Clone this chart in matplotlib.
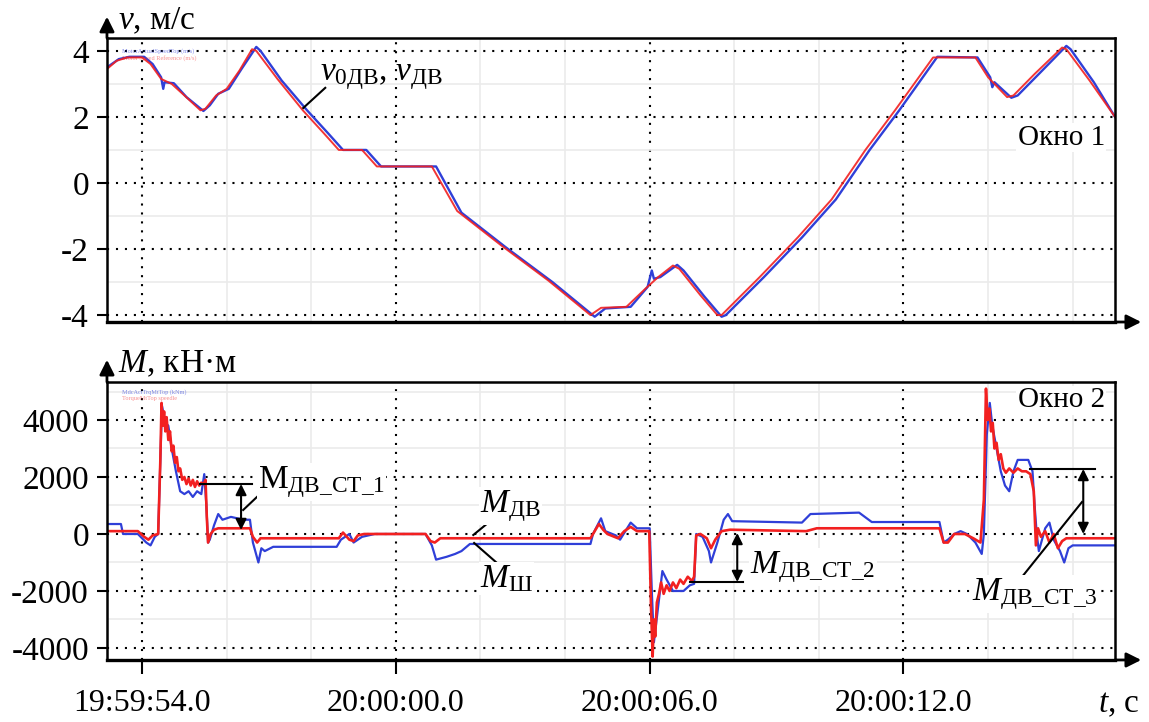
import matplotlib.pyplot as plt
from matplotlib.ticker import FixedLocator, MultipleLocator

# time axis: seconds after 19:59:54.0
time_ticks = [0, 6, 12, 18]
time_labels = ["19:59:54.0", "20:00:00.0", "20:00:06.0", "20:00:12.0"]

# Window 1: speed, m/s  (t, v)
v_ref_pts = [(-0.83, 3.45), (-0.6, 3.7), (-0.35, 3.8), (0.0, 3.8), (0.2, 3.6), (0.45, 3.15),
             (0.7, 3.0), (1.0, 2.65), (1.38, 2.2), (1.5, 2.25), (1.75, 2.65), (2.0, 2.85),
             (2.3, 3.4), (2.6, 4.05), (2.7, 4.0), (3.2, 3.15), (3.8, 2.2), (4.3, 1.5),
             (4.65, 1.0), (5.2, 1.0), (5.55, 0.5), (6.85, 0.5), (7.45, -0.85), (8.5, -1.9),
             (9.6, -2.95), (10.6, -4.0), (10.85, -3.78), (11.45, -3.75), (11.9, -3.2),
             (12.2, -2.85), (12.55, -2.5), (12.7, -2.6), (13.2, -3.4), (13.6, -4.0),
             (13.7, -4.0), (14.6, -2.85), (15.5, -1.65), (16.3, -0.5), (17.1, 1.0),
             (17.8, 2.2), (18.7, 3.8), (19.7, 3.8), (20.0, 3.2), (20.45, 2.6), (20.6, 2.65),
             (21.1, 3.3), (21.75, 4.1), (21.85, 4.05), (22.4, 3.1), (23.0, 2.0)]
v_act_pts = [(-0.83, 3.5), (-0.55, 3.75), (-0.3, 3.82), (0.05, 3.82), (0.25, 3.6), (0.45, 3.2),
             (0.5, 2.85), (0.53, 3.05), (0.75, 3.02), (1.05, 2.6), (1.45, 2.18), (1.6, 2.35),
             (1.8, 2.7), (2.05, 2.85), (2.35, 3.45), (2.7, 4.12), (2.8, 4.0), (3.3, 3.1),
             (3.9, 2.2), (4.4, 1.5), (4.75, 1.0), (5.3, 1.0), (5.65, 0.5), (6.95, 0.5),
             (7.55, -0.9), (8.6, -1.95), (9.7, -3.0), (10.7, -4.05), (10.95, -3.8),
             (11.55, -3.75), (11.95, -3.15), (12.05, -2.65), (12.1, -2.9), (12.25, -2.85),
             (12.65, -2.48), (12.8, -2.65), (13.3, -3.45), (13.7, -4.05), (13.8, -4.0),
             (14.7, -2.85), (15.6, -1.65), (16.4, -0.5), (17.2, 1.0), (17.9, 2.2),
             (18.8, 3.82), (19.75, 3.8), (20.05, 3.2), (20.1, 2.9), (20.15, 3.05),
             (20.55, 2.58), (20.7, 2.65), (21.2, 3.3), (21.85, 4.15), (21.95, 4.05),
             (22.5, 3.05), (23.0, 2.0)]

# Window 2: torque, kN*m  (t, M)
m_dv_pts = [(-0.83, 100), (-0.1, 100), (0.05, -100), (0.15, -200), (0.25, -50), (0.38, 0),
            (0.43, 2500), (0.46, 4600), (0.49, 3800), (0.52, 4300), (0.55, 3600), (0.58, 4100),
            (0.62, 3300), (0.66, 3600), (0.7, 2900), (0.74, 3100), (0.78, 2500), (0.82, 2700),
            (0.86, 2200), (0.9, 2300), (0.95, 1900), (1.0, 2000), (1.05, 1750), (1.1, 1950),
            (1.15, 1700), (1.2, 1900), (1.25, 1650), (1.3, 1850), (1.35, 1700), (1.4, 1800),
            (1.45, 1750), (1.5, 1900), (1.53, 600), (1.56, -300), (1.62, 0), (1.7, 150),
            (1.8, 200), (2.55, 200), (2.62, -100), (2.72, -300), (2.8, -150), (2.9, -150),
            (4.65, -150), (4.75, 50), (4.9, -200), (5.0, -250), (5.1, -50), (5.25, 0),
            (6.7, 0), (6.82, -250), (6.92, -300), (7.05, -150), (7.25, -150), (10.6, -150),
            (10.66, 0), (10.8, 350), (10.9, 150), (11.0, 0), (11.25, -150), (11.4, 100),
            (11.55, 250), (11.7, 100), (11.99, 100), (12.03, -2500), (12.07, -4300),
            (12.1, -3000), (12.13, -3600), (12.17, -2400), (12.22, -2100), (12.27, -1700),
            (12.33, -2100), (12.4, -1800), (12.47, -2000), (12.55, -1700), (12.63, -1900),
            (12.72, -1600), (12.8, -1750), (12.9, -1500), (13.0, -1650), (13.05, -1500),
            (13.1, -50), (13.2, 0), (13.35, -150), (13.45, -500), (13.55, -200), (13.7, 100),
            (13.9, 150), (15.7, 100), (15.95, 200), (18.85, 200), (18.95, -300), (19.05, -300),
            (19.2, 0), (19.45, 0), (19.65, -150), (19.82, -300), (19.9, 1200), (19.95, 5100),
            (19.99, 4000), (20.03, 4400), (20.07, 3600), (20.11, 3900), (20.15, 3000),
            (20.2, 3200), (20.25, 2600), (20.3, 2800), (20.36, 2300), (20.42, 2150),
            (20.5, 2300), (20.6, 2150), (20.7, 2300), (20.8, 2200), (20.9, 2200), (21.0, 2100),
            (21.08, 1500), (21.13, -400), (21.18, 200), (21.25, -100), (21.35, 100),
            (21.45, -300), (21.55, 0), (21.65, -500), (21.75, -250), (21.85, -150),
            (22.0, -150), (23.0, -150)]
m_sh_pts = [(-0.83, 350), (-0.5, 350), (-0.45, 0), (-0.1, 0), (0.1, -300), (0.2, -400),
            (0.3, -100), (0.38, 0), (0.47, 4500), (0.55, 3900), (0.62, 3800), (0.7, 3000),
            (0.8, 2200), (0.9, 1500), (1.0, 1400), (1.1, 1500), (1.2, 1300), (1.3, 1500),
            (1.4, 1400), (1.47, 2100), (1.52, 1000), (1.56, -300), (1.6, -200), (1.7, 300),
            (1.8, 700), (1.9, 500), (2.1, 600), (2.4, 500), (2.55, 500), (2.62, -300),
            (2.75, -1000), (2.82, -500), (2.9, -600), (3.1, -450), (4.6, -450), (4.7, -200),
            (4.9, 0), (5.0, -300), (5.2, -100), (5.5, 0), (6.7, 0), (6.85, -400), (6.95, -900),
            (7.2, -800), (7.4, -700), (7.55, -600), (7.75, -350), (10.6, -350), (10.66, 0),
            (10.85, 550), (10.95, 100), (11.2, -50), (11.3, -200), (11.55, 400), (11.7, 200),
            (12.0, 200), (12.05, -2000), (12.1, -3800), (12.18, -2800), (12.3, -1300),
            (12.4, -1600), (12.55, -2000), (12.8, -2000), (12.95, -1800), (13.05, -1750),
            (13.1, 0), (13.25, -100), (13.4, -600), (13.45, -1000), (13.6, -300), (13.75, 500),
            (13.85, 700), (13.95, 450), (15.6, 400), (15.8, 700), (16.95, 750), (17.25, 420),
            (18.85, 420), (18.95, -300), (19.05, -200), (19.2, 0), (19.35, 100), (19.5, 0),
            (19.7, -300), (19.85, -700), (19.9, 0), (19.97, 3500), (20.04, 4600), (20.1, 3800),
            (20.2, 3000), (20.3, 2200), (20.4, 1700), (20.5, 1500), (20.6, 2200), (20.7, 2600),
            (20.95, 2600), (21.05, 2200), (21.1, 1000), (21.15, 0), (21.2, -600), (21.35, 200),
            (21.45, 400), (21.55, -200), (21.7, -600), (21.8, -1000), (21.9, -500),
            (22.0, -400), (23.0, -400)]

BLUE = "#2f3fd8"
RED = "#f22020"

plt.rcParams['font.family'] = ['Liberation Serif', 'DejaVu Serif']
plt.rcParams['mathtext.fontset'] = 'custom'
plt.rcParams['mathtext.rm'] = 'Liberation Serif'
plt.rcParams['mathtext.it'] = 'Liberation Serif:italic'
plt.rcParams['axes.unicode_minus'] = False

fig = plt.figure(figsize=(11.49, 7.22), dpi=100)
ax1 = fig.add_axes([0.0931, 0.554, 0.8773, 0.3934])
ax2 = fig.add_axes([0.0931, 0.0859, 0.8773, 0.385])

for ax in (ax1, ax2):
    ax.set_xlim(-0.83, 23.0)
    ax.xaxis.set_major_locator(FixedLocator(time_ticks))
    ax.xaxis.set_minor_locator(MultipleLocator(2))
    ax.grid(which='minor', color='#ebebeb', lw=1.2, ls='-')
    ax.grid(which='major', color='k', lw=1.5, ls=(0, (1, 3.3)))
    ax.set_axisbelow(True)
    for s in ax.spines.values():
        s.set_linewidth(1.8)
    ax.spines['bottom'].set_linewidth(2.4)
    ax.tick_params(axis='y', which='major', direction='out', length=7, width=1.5,
                   labelsize=24, pad=6)
    ax.tick_params(which='minor', length=0)

# window 1
ax1.set_ylim(-4.21, 4.39)
ax1.yaxis.set_major_locator(MultipleLocator(2))
ax1.yaxis.set_minor_locator(MultipleLocator(1))
ax1.tick_params(axis='x', which='major', length=0, labelbottom=False)
t, v = zip(*v_act_pts)
ax1.plot(t, v, color=BLUE, lw=1.7)
t, v = zip(*v_ref_pts)
ax1.plot(t, v, color=RED, lw=1.4, alpha=0.9)

# window 2
ax2.set_ylim(-4421, 5333)
ax2.yaxis.set_major_locator(MultipleLocator(2000))
ax2.yaxis.set_minor_locator(MultipleLocator(1000))
ax2.set_xticklabels(time_labels)
ax2.tick_params(axis='x', which='major', direction='out', length=10, width=1.5,
                labelsize=23, pad=11)
t, m = zip(*m_sh_pts)
ax2.plot(t, m, color=BLUE, lw=1.6)
t, m = zip(*m_dv_pts)
ax2.plot(t, m, color=RED, lw=1.9)

# axis arrows
arr = dict(arrowstyle='-|>', color='k', lw=2, mutation_scale=22, shrinkA=0, shrinkB=0)
ax1.annotate('', xy=(0, 1.075), xytext=(0, 1), xycoords='axes fraction', arrowprops=arr)
ax2.annotate('', xy=(0, 1.08), xytext=(0, 1), xycoords='axes fraction', arrowprops=arr)
ax1.annotate('', xy=(1.026, 0), xytext=(1, 0), xycoords='axes fraction', arrowprops=arr)
ax2.annotate('', xy=(1.026, 0), xytext=(1, 0), xycoords='axes fraction', arrowprops=arr)

fig.text(118 / 1149, 1 - 29 / 722, r"$v$, м/с", fontsize=24, va='baseline')
fig.text(118 / 1149, 1 - 372 / 722, r"$M$, кН·м", fontsize=24, va='baseline')
fig.text(1140 / 1149, 1 - 712 / 722, r"$t$, с", fontsize=24, va='baseline', ha='right')

wbox = dict(facecolor='white', edgecolor='none', pad=1)
ax1.text(0.99, 0.648, "Окно 1", transform=ax1.transAxes, fontsize=21, ha='right',
         va='center', bbox=wbox)
ax2.text(0.99, 0.935, "Окно 2", transform=ax2.transAxes, fontsize=21, ha='right',
         va='center', bbox=wbox)

# tiny legends of the recorder software
ax1.text(0.015, 0.955, "MotorActualSpeedTop (m/s)", transform=ax1.transAxes, fontsize=4.5,
         color=BLUE, alpha=0.6, va='center')
ax1.text(0.015, 0.93, "Motor Speed Reference (m/s)", transform=ax1.transAxes, fontsize=4.5,
         color=RED, alpha=0.5, va='center')
ax2.text(0.015, 0.965, "MdcActTrqMtTop (kNm)", transform=ax2.transAxes, fontsize=4.5,
         color=BLUE, alpha=0.6, va='center')
ax2.text(0.015, 0.94, "TorqueMtTop speedle", transform=ax2.transAxes, fontsize=4.5,
         color=RED, alpha=0.5, va='center')

# annotations
fs = 24
ax1.text(4.21, 3.12, r"$v_{\mathrm{0ДВ}}$, $v_{\mathrm{ДВ}}$", fontsize=fs, va='baseline')
ax1.plot([3.81, 4.33], [2.27, 2.88], color='k', lw=1.5)

dbl = dict(arrowstyle='<|-|>', color='k', lw=1.5, mutation_scale=16, shrinkA=0, shrinkB=0)

ax2.plot([1.37, 2.60], [1755, 1755], color='k', lw=1.5)
ax2.annotate('', xy=(2.34, 1755), xytext=(2.34, 140), arrowprops=dbl)
ax2.plot([2.39, 2.84], [842, 1474], color='k', lw=1.5)
ax2.text(2.74, 1614, r"$\mathrm{М}_{\mathrm{ДВ\_СТ\_1}}$", fontsize=fs, va='baseline', bbox=wbox)

ax2.text(7.99, 772, r"$M_{\mathrm{ДВ}}$", fontsize=fs, va='baseline', bbox=wbox)
ax2.plot([7.83, 8.35], [-35, 597], color='k', lw=1.5)
ax2.text(7.99, -1860, r"$M_{\mathrm{Ш}}$", fontsize=fs, va='baseline', bbox=wbox)
ax2.plot([7.85, 8.39], [-316, -1018], color='k', lw=1.5)

ax2.plot([12.96, 14.21], [-1684, -1684], color='k', lw=1.5)
ax2.annotate('', xy=(14.07, 35), xytext=(14.07, -1684), arrowprops=dbl)
ax2.text(14.37, -1369, r"$M_{\mathrm{ДВ\_СТ\_2}}$", fontsize=fs, va='baseline', bbox=wbox)

ax2.plot([20.99, 22.53], [2281, 2281], color='k', lw=1.5)
ax2.annotate('', xy=(22.25, 2281), xytext=(22.25, 0), arrowprops=dbl)
ax2.text(19.62, -2316, r"$M_{\mathrm{ДВ\_СТ\_3}}$", fontsize=fs, va='baseline', bbox=wbox)
ax2.plot([22.22, 20.8], [1123, -1509], color='k', lw=1.5)

fig.savefig("out.png", dpi=100)
